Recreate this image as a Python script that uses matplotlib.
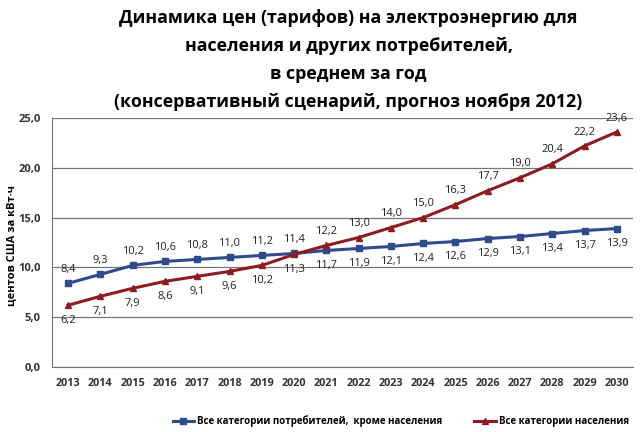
import matplotlib
matplotlib.use("Agg")
from matplotlib import pyplot as plt
import numpy as np

years = ["2013", "2014", "2015", "2016", "2017", "2018", "2019", "2020", "2021",
         "2022", "2023", "2024", "2025", "2026", "2027", "2028", "2029", "2030"]
other = [8.4, 9.3, 10.2, 10.6, 10.8, 11.0, 11.2, 11.4, 11.7, 11.9, 12.1, 12.4,
         12.6, 12.9, 13.1, 13.4, 13.7, 13.9]
households = [6.2, 7.1, 7.9, 8.6, 9.1, 9.6, 10.2, 11.3, 12.2, 13.0, 14.0, 15.0,
              16.3, 17.7, 19.0, 20.4, 22.2, 23.6]
yticks = [0, 5, 10, 15, 20, 25]

title = ("Динамика цен (тарифов) на электроэнергию для\n"
         "населения и других потребителей,\n"
         "в среднем за год\n"
         "(консервативный сценарий, прогноз ноября 2012)")

plt.rcParams['font.family'] = ['Open Sans', 'DejaVu Sans']

blue = "#2f4b8c"
red = "#8c1c1f"

fig = plt.figure(figsize=(6.42, 4.32), dpi=100)
ax = fig.add_axes([52 / 642, 1 - 367 / 432, (633 - 52) / 642, (367 - 118) / 432])

x = np.arange(len(years))
ax.plot(x, other, color=blue, lw=2.2, marker="s", ms=4.5,
        label="Все категории потребителей,  кроме населения")
ax.plot(x, households, color=red, lw=2.2, marker="^", ms=5,
        label="Все категории населения")

# labels: above/below switch after 2020 when the lines cross
for i in range(len(years)):
    up, down = (other, households) if i <= 7 else (households, other)
    ax.annotate(f"{up[i]:.1f}".replace(".", ","), (x[i], up[i]),
                xytext=(0, 6), textcoords="offset points", ha="center",
                va="bottom", fontsize=8, color="#222222")
    ax.annotate(f"{down[i]:.1f}".replace(".", ","), (x[i], down[i]),
                xytext=(0, -7), textcoords="offset points", ha="center",
                va="top", fontsize=8, color="#222222")

ax.set_xlim(-0.5, len(years) - 0.5)
ax.set_ylim(0, 25)
ax.set_xticks(x)
ax.set_xticklabels(years, fontsize=7.8, fontweight="bold", color="#333333")
ax.set_yticks(yticks)
ax.set_yticklabels([f"{v:.1f}".replace(".", ",") for v in yticks],
                   fontsize=8, fontweight="bold", color="#333333")
ax.tick_params(length=0, pad=8)
ax.grid(axis="y", color="#777777", lw=0.9)
ax.set_axisbelow(True)
for s in ["top", "right"]:
    ax.spines[s].set_visible(False)
ax.spines["left"].set_color("#777777")
ax.spines["bottom"].set_color("#777777")

fig.text(12 / 642, 1 - 245 / 432, "центов США за кВт·ч", rotation=90,
         ha="center", va="center", fontsize=8, fontweight="bold")

fig.text(0.543, 1 - 9 / 432, title, ha="center", va="top", fontsize=12.8,
         fontweight="bold", linespacing=1.72)

fig.legend(loc="center", bbox_to_anchor=(0.624, 1 - 421 / 432), ncol=2,
           frameon=False, handlelength=2.2, handletextpad=0.3, columnspacing=3.3,
           prop={"weight": "bold", "size": 7.0})

fig.savefig("out.png", dpi=100)
